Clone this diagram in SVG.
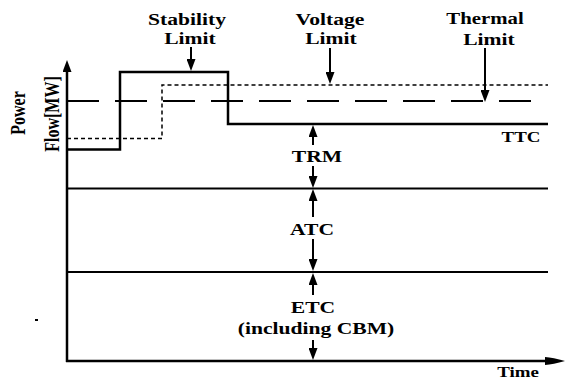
<svg xmlns="http://www.w3.org/2000/svg" width="565" height="381" viewBox="0 0 565 381">
<style>
  .lbl { font-family: "Liberation Serif", "Times New Roman", serif; font-weight: bold; font-size: 16px; fill: #000; text-anchor: middle; }
  .sm { font-size: 14px; }
  .ln { stroke: #000; fill: none; }
  .solid { stroke-width: 2.5; }
  .thin { stroke-width: 2; }
  .sdash { stroke-width: 1.5; stroke-dasharray: 4 3; }
  .ldash { stroke-width: 2; stroke-dasharray: 32 16; }
  .arr { stroke: #000; stroke-width: 2; fill: none; marker-end: url(#ah); }
</style>
<defs>
  <marker id="ah" viewBox="0 0 12 9" markerWidth="12" markerHeight="9" refX="0" refY="4.5" orient="auto" markerUnits="userSpaceOnUse">
    <path d="M0,0 L12,4.5 L0,9 Z" fill="#000"/>
  </marker>
  <marker id="axh" viewBox="0 0 20 9" markerWidth="20" markerHeight="9" refX="0" refY="4.5" orient="auto" markerUnits="userSpaceOnUse">
    <path d="M0,0.5 Q8,1 20,4.5 Q8,8 0,8.5 Z" fill="#000"/>
  </marker>
  <marker id="ayh" viewBox="0 0 12 9" markerWidth="12" markerHeight="9" refX="0" refY="4.5" orient="auto" markerUnits="userSpaceOnUse">
    <path d="M0,0 L12,4.5 L0,9 Z" fill="#000"/>
  </marker>
</defs>

<g id="axes">
  <line class="ln solid" x1="67" y1="362" x2="67" y2="72" marker-end="url(#ayh)"/>
  <line class="ln solid" x1="66" y1="361" x2="545" y2="361" marker-end="url(#axh)"/>
  <rect x="35" y="319" width="3" height="2" fill="#000"/>
</g>

<g id="y-label">
  <text class="lbl" transform="translate(25,113) rotate(-90) scale(1,1.35)">Power</text>
  <text class="lbl" transform="translate(59,114) rotate(-90) scale(1,1.35)">Flow[MW]</text>
</g>

<g id="curves">
  <path class="ln solid" d="M67,149.5 H120 V72 H228 V124 H548"/>
  <path class="ln sdash" d="M67,138.5 H162 V85 H548"/>
  <line class="ln ldash" x1="67" y1="101" x2="531" y2="101"/>
  <line class="ln thin" x1="67" y1="188.5" x2="548" y2="188.5"/>
  <line class="ln thin" x1="67" y1="272" x2="548" y2="272"/>
</g>

<g id="stability-limit">
  <text class="lbl" transform="translate(187,25) scale(1.35,1)">Stability</text>
  <text class="lbl" transform="translate(190,44) scale(1.35,1)">Limit</text>
</g>
<g id="voltage-limit">
  <text class="lbl" transform="translate(330,25) scale(1.35,1)">Voltage</text>
  <text class="lbl" transform="translate(331,44) scale(1.35,1)">Limit</text>
</g>
<g id="thermal-limit">
  <text class="lbl" transform="translate(485,24) scale(1.3,1)">Thermal</text>
  <text class="lbl" transform="translate(489,45) scale(1.35,1)">Limit</text>
</g>
<g id="ttc">
  <text class="lbl sm" transform="translate(521,142) scale(1.35,1)">TTC</text>
</g>
<g id="trm">
  <text class="lbl" transform="translate(317,162) scale(1.35,1)">TRM</text>
</g>
<g id="atc">
  <text class="lbl" transform="translate(312,235) scale(1.35,1)">ATC</text>
</g>
<g id="etc">
  <text class="lbl" transform="translate(313,313) scale(1.35,1)">ETC</text>
  <text class="lbl" transform="translate(316,334) scale(1.35,1)">(including CBM)</text>
</g>
<g id="time">
  <text class="lbl sm" transform="translate(518,377) scale(1.35,1)">Time</text>
</g>

<g id="connectors">
  <line class="arr" x1="191" y1="47" x2="191" y2="59"/>
  <line class="arr" x1="330" y1="48" x2="330" y2="72"/>
  <line class="arr" x1="485" y1="48" x2="485" y2="90"/>
  <line class="arr" x1="313" y1="145" x2="313" y2="137"/>
  <line class="arr" x1="313" y1="166" x2="313" y2="176"/>
  <line class="arr" x1="313" y1="217" x2="313" y2="201"/>
  <line class="arr" x1="313" y1="239" x2="313" y2="259"/>
  <line class="arr" x1="313" y1="295" x2="313" y2="285"/>
  <line class="arr" x1="313" y1="340" x2="313" y2="348"/>
</g>
</svg>
